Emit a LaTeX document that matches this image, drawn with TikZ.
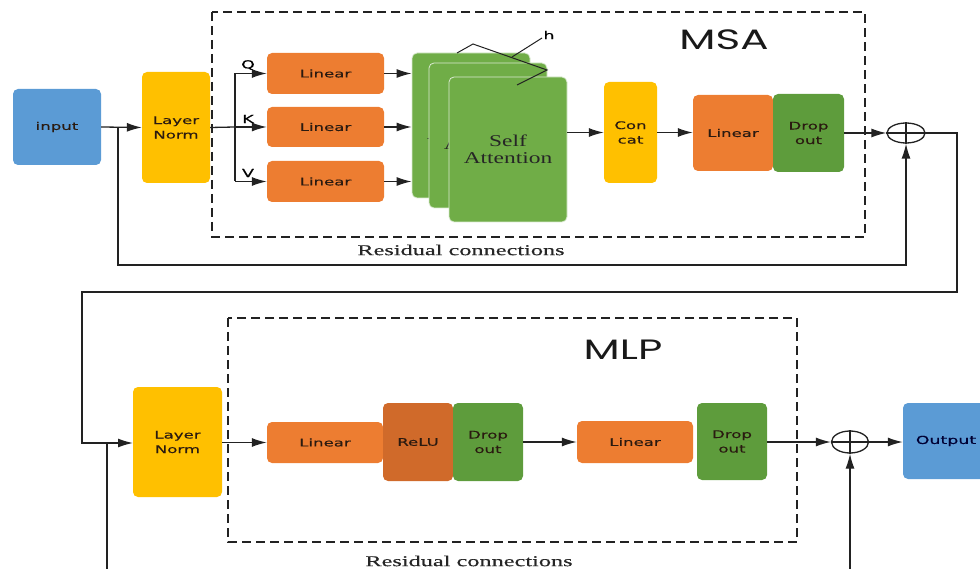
\documentclass[tikz,border=0pt]{standalone}
\usepackage{fontspec}
\usetikzlibrary{arrows.meta,shapes.geometric}
\newfontfamily\lblfont[FakeStretch=1.58,FakeBold=0.3]{DejaVu Sans}
\newfontfamily\ttlfont[FakeStretch=1.5]{Poppins}
\newfontfamily\serA[FakeStretch=1.42]{Liberation Serif}
\newfontfamily\serB[FakeStretch=1.62,FakeBold=0.3]{Liberation Serif}
\definecolor{cblue}{HTML}{5B9BD5}
\definecolor{cyellow}{HTML}{FFC000}
\definecolor{corange}{HTML}{ED7D31}
\definecolor{cgreen}{HTML}{70AD47}
\definecolor{cdrop}{HTML}{5E9C3C}
\definecolor{crelu}{HTML}{D06A2A}
\definecolor{ctxt}{HTML}{2A1A10}
\definecolor{cline}{HTML}{222222}
\begin{document}
\begin{tikzpicture}[x=1pt,y=-1pt,
  box/.style={draw=none, rounded corners=5pt, inner sep=0pt, align=center, text=ctxt,
    font=\lblfont\fontsize{10.5}{14.5}\selectfont},
  sz/.style 2 args={minimum width=#1pt, minimum height=#2pt},
  ln/.style={draw=cline, line width=1.3pt},
  arr/.style={ln, -{Latex[length=15pt,width=9pt]}},
  dashbox/.style={draw=cline, line width=1.2pt, dash pattern=on 9pt off 5pt},
  sabox/.style={box, fill=cgreen, draw=white!75!cgreen, line width=0.8pt, text=black!85,
    font=\serA\fontsize{16.5}{17}\selectfont},
  plus/.style={draw=cline, line width=1.3pt, ellipse, inner sep=0pt},
  qkv/.style={font=\lblfont\fontsize{11}{11}\selectfont, text=black, inner sep=0pt},
  ttl/.style={font=\ttlfont\fontsize{28}{28}\selectfont, text=black!90, inner sep=0pt},
  res/.style={font=\serB\fontsize{15}{15}\selectfont, text=black!85, inner sep=0pt}
]
\useasboundingbox (0,0) rectangle (980,569);

% ---------- MSA block ----------
\draw[dashbox] (212,12) rectangle (865,237);
\node[ttl] (msa) at (724,40) {MSA};
\node[res] (res1) at (461,250) {Residual connections};

\node[box, fill=cblue, sz={88}{76}] (inp) at (57,127) {input};
\node[box, fill=cyellow, sz={68}{111}] (ln1) at (176,127.5) {Layer\\Norm};

\node[box, fill=corange, sz={117}{41}] (lq) at (325.5,73.5) {Linear};
\node[box, fill=corange, sz={117}{40}] (lk) at (325.5,127) {Linear};
\node[box, fill=corange, sz={117}{41}] (lv) at (325.5,181.5) {Linear};

\node[sabox, sz={118}{145}] (sa1) at (471,125.5) {Self\\Attention};
\node[sabox, sz={118}{145}] (sa2) at (488,135.5) {Self\\Attention};
\node[sabox, sz={118}{145}] (sa3) at (508,149.5) {Self\\Attention};

\node[box, fill=cyellow, sz={53}{101}] (cc) at (630.5,132.5) {Con\\cat};
\node[box, fill=corange, sz={80}{76}] (lin) at (733,133) {Linear};
\node[box, fill=cdrop, sz={71}{78}] (dr) at (808.5,133) {Drop\\out};
\node[plus, minimum width=38pt, minimum height=20pt] (p1) at (906,133) {};
\draw[ln] (p1.west) -- (p1.east) (p1.north) -- (p1.south);

% h bracket
\draw[line width=1pt, cline] (457,53) -- (473,44) -- (547,70) -- (517,85);
\draw[line width=1pt, cline] (512,57) -- (542,38);
\node[qkv] (hl) at (549,35) {h};

% connectors top
\coordinate (j1) at (118,127);
\coordinate (br) at (235,127);
\draw[arr] (inp.east) -- (ln1.west);
\draw[ln] (ln1.east) -- (br);
\draw[ln] (br |- lq.west) -- (br |- lv.west);
\draw[arr] (br |- lq.west) -- (lq.west);
\draw[arr] (br) -- (lk.west);
\draw[arr] (br |- lv.west) -- (lv.west);
\node[qkv] (qlab) at (248,65) {Q};
\node[qkv] (klab) at (248,119) {K};
\node[qkv] (vlab) at (248,173) {V};
\draw[arr] (lq.east) -- (lq.east -| sa1.west);
\draw[arr] (lk.east) -- (lk.east -| sa1.west);
\draw[arr] (lv.east) -- (lv.east -| sa1.west);
\draw[arr] (sa3.east |- cc.west) -- (cc.west);
\draw[arr] (cc.east) -- (lin.west |- cc.east);
\draw[arr] (dr.east) -- (p1.west);
\draw[arr] (j1) -- (118,265) -- (p1.south |- 0,265) -- (p1.south);

% link to lower block
\coordinate (r1) at (957,292);
\coordinate (r2) at (82,292);
\draw[arr] (p1.east) -- (r1 |- p1.east) -- (r1) -- (r2) -- (r2 |- 0,443) -- (133,443);

% ---------- MLP block ----------
\draw[dashbox] (228,318) rectangle (797,542);
\node[ttl] (mlp) at (623,350) {MLP};
\node[res] (res2) at (469,561) {Residual connections};

\node[box, fill=cyellow, sz={89}{110}] (ln2) at (177.5,442) {Layer\\Norm};
\node[box, fill=corange, sz={116}{41}] (l1) at (325,442.5) {Linear};
\node[box, fill=crelu, sz={70}{78}] (relu) at (418,442) {ReLU};
\node[box, fill=cdrop, sz={70}{78}] (d1) at (488,442) {Drop\\out};
\node[box, fill=corange, sz={116}{42}] (l2) at (635,442) {Linear};
\node[box, fill=cdrop, sz={70}{77}] (d2) at (732,441.5) {Drop\\out};
\node[plus, minimum width=37pt, minimum height=22pt] (p2) at (850,442) {};
\draw[ln] (p2.west) -- (p2.east) (p2.north) -- (p2.south);
\node[box, fill=cblue, sz={86}{76}, text=blue!20!black, font=\lblfont\fontsize{11}{14}\selectfont] (outp) at (946,441) {Output};

\coordinate (j2) at (107,443);
\coordinate (b2) at (107,569);
\coordinate (b3) at (850,569);
\draw[ln] (b2) -- (j2);
\draw[arr] (ln2.east |- l1.west) -- (l1.west);
\draw[arr] (d1.east) -- (l2.west |- d1.east);
\draw[arr] (d2.east |- p2.west) -- (p2.west);
\draw[arr] (p2.east) -- (outp.west |- p2.east);
\draw[arr] (b3) -- (p2.south);
\end{tikzpicture}
\end{document}
